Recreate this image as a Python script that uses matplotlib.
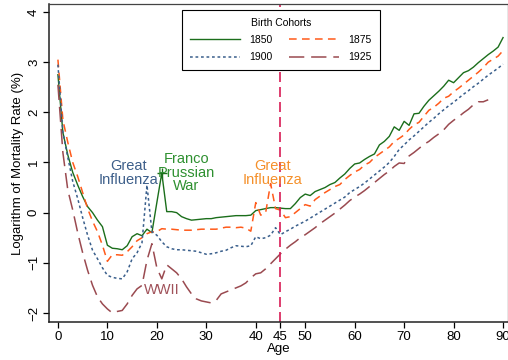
import matplotlib
matplotlib.use("Agg")
import matplotlib.pyplot as plt
import numpy as np

ages = list(range(0, 91))
ages_1925 = list(range(0, 88))

c1850 = [2.75, 1.6, 1.15, 0.8, 0.55, 0.32, 0.12, 0.0, -0.15, -0.28,
         -0.65, -0.71, -0.72, -0.74, -0.66, -0.48, -0.42, -0.46, -0.33, -0.4,
         0.2, 0.79, 0.02, 0.02, 0.0, -0.08, -0.12, -0.15, -0.14, -0.13,
         -0.12, -0.12, -0.1, -0.09, -0.08, -0.07, -0.06, -0.06, -0.06, -0.05,
         0.04, 0.06, 0.08, 0.1, 0.1, 0.09, 0.08, 0.08, 0.18, 0.3,
         0.37, 0.34, 0.42, 0.46, 0.5, 0.56, 0.6, 0.69, 0.77, 0.88,
         0.97, 0.99, 1.06, 1.12, 1.17, 1.35, 1.42, 1.52, 1.71, 1.64,
         1.82, 1.74, 1.97, 1.98, 2.12, 2.24, 2.33, 2.42, 2.52, 2.64,
         2.59, 2.69, 2.79, 2.83, 2.9, 2.99, 3.07, 3.15, 3.22, 3.3,
         3.49]

c1875 = [3.05, 1.85, 1.4, 1.0, 0.72, 0.4, 0.08, -0.17, -0.38, -0.65,
         -0.97, -0.84, -0.84, -0.85, -0.78, -0.68, -0.56, -0.5, -0.42, -0.38,
         -0.38, -0.32, -0.33, -0.33, -0.34, -0.35, -0.35, -0.35, -0.34, -0.33,
         -0.33, -0.33, -0.33, -0.31, -0.29, -0.29, -0.3, -0.29, -0.31, -0.37,
         0.2, -0.05, 0.0, 0.58, 0.08, 0.05, -0.1, -0.08, 0.0, 0.08,
         0.16, 0.13, 0.26, 0.33, 0.4, 0.46, 0.52, 0.56, 0.66, 0.74,
         0.81, 0.86, 0.95, 1.0, 1.1, 1.17, 1.24, 1.31, 1.42, 1.48,
         1.55, 1.66, 1.75, 1.8, 1.92, 2.04, 2.1, 2.18, 2.28, 2.32,
         2.41, 2.48, 2.56, 2.64, 2.72, 2.8, 2.89, 3.0, 3.06, 3.12,
         3.23]

c1900 = [2.95, 1.6, 1.1, 0.62, 0.28, -0.1, -0.45, -0.75, -0.92, -1.1,
         -1.25, -1.29, -1.31, -1.32, -1.18, -0.92, -0.8, -0.6, 0.55, -0.38,
         -0.45, -0.58, -0.68, -0.72, -0.74, -0.74, -0.75, -0.76, -0.77, -0.8,
         -0.83, -0.82, -0.8, -0.77, -0.75, -0.7, -0.66, -0.67, -0.68, -0.66,
         -0.48, -0.52, -0.5, -0.45, -0.3, -0.44, -0.38, -0.33, -0.27, -0.22,
         -0.17, -0.11, -0.05, 0.01, 0.07, 0.13, 0.19, 0.25, 0.31, 0.4,
         0.46, 0.52, 0.59, 0.67, 0.75, 0.83, 0.91, 1.0, 1.12, 1.26,
         1.35, 1.45, 1.53, 1.62, 1.71, 1.8, 1.88, 1.97, 2.05, 2.13,
         2.2, 2.28, 2.36, 2.43, 2.51, 2.58, 2.66, 2.74, 2.81, 2.88,
         2.96]

c1925 = [2.55, 1.2, 0.45, 0.05, -0.4, -0.8, -1.15, -1.45, -1.68, -1.82,
         -1.92, -2.0, -1.97, -1.95, -1.82, -1.65, -1.52, -1.45, -0.95, -0.62,
         -1.1, -1.32, -1.04, -1.12, -1.2, -1.32, -1.48, -1.62, -1.72, -1.76,
         -1.78, -1.8, -1.75, -1.62, -1.58, -1.54, -1.5, -1.46, -1.4, -1.3,
         -1.22, -1.2, -1.12, -1.02, -0.92, -0.82, -0.73, -0.65, -0.58, -0.5,
         -0.44, -0.37, -0.3, -0.22, -0.15, -0.08, -0.01, 0.07, 0.15, 0.24,
         0.31, 0.37, 0.44, 0.52, 0.6, 0.68, 0.76, 0.83, 0.92, 0.99,
         0.98, 1.13, 1.2, 1.28, 1.36, 1.42, 1.5, 1.57, 1.65, 1.76,
         1.84, 1.91, 1.99, 2.06, 2.15, 2.21, 2.21, 2.25]

xticks = [0, 10, 20, 30, 40, 45, 50, 60, 70, 80, 90]
yticks = [-2, -1, 0, 1, 2, 3, 4]
peak_age = 21

plt.rcParams['font.family'] = ['Liberation Sans', 'DejaVu Sans']

fig = plt.figure(figsize=(5.08, 3.6), dpi=100)
ax = fig.add_axes([0.0965, 0.1056, 0.9035, 0.8834])

green = '#1b6e1b'
l1, = ax.plot(ages, c1850, color=green, lw=1.0, linestyle='-')
ax.plot([ages[peak_age]], [c1850[peak_age]], linestyle='none', marker='+',
        markersize=7, markeredgewidth=1.0, color=green)
l2, = ax.plot(ages, c1875, color='#ff5a1a', lw=1.1, linestyle=(0, (5, 3.5)))
l3, = ax.plot(ages, c1900, color='#3a5f8c', lw=1.1, linestyle=(0, (1.8, 1.8)))
l4, = ax.plot(ages_1925, c1925, color='#9a4a50', lw=1.1, linestyle=(0, (10, 4.5)))

ax.axvline(45, color='#d81b55', lw=1.2, linestyle=(0, (6, 3)))

ax.text(14.2, 0.79, 'Great\nInfluenza', color='#3d5f8a', fontsize=10.5,
        ha='center', va='center', linespacing=0.95)
ax.text(26.0, 0.80, 'Franco\nPrussian\nWar', color='#2e9030', fontsize=10.5,
        ha='center', va='center', linespacing=0.95)
ax.text(43.3, 0.79, 'Great\nInfluenza', color='#f5902a', fontsize=10.5,
        ha='center', va='center', linespacing=0.95)
ax.text(21.0, -1.55, 'WWII', color='#a0525a', fontsize=10.5,
        ha='center', va='center')

ax.set_xlim(-1.8, 91.0)
ax.set_ylim(-2.18, 4.16)
ax.set_xticks(xticks)
ax.set_yticks(yticks)
ax.set_xticklabels([str(t) for t in xticks], fontsize=9.5)
ax.set_yticklabels([str(t).replace('-', '\u2212') for t in yticks], fontsize=9.5,
                   rotation=90, va='center')
ax.tick_params(direction='out', length=4.5, width=0.9, colors='black', pad=2)
ax.set_xlabel('Age', fontsize=9.5, labelpad=0)
ax.set_ylabel('Logarithm of Mortality Rate (%)', fontsize=9.5, labelpad=3)

for s in ['left', 'bottom']:
    ax.spines[s].set_linewidth(1.1)
    ax.spines[s].set_color('#222222')
for s in ['top', 'right']:
    ax.spines[s].set_linewidth(0.9)
    ax.spines[s].set_color('#444444')

leg = ax.legend([l1, l3, l2, l4], ['1850', '1900', '1875', '1925'],
                ncol=2, title='Birth Cohorts', fontsize=7.5, title_fontsize=7.5,
                loc='upper left', bbox_to_anchor=(0.29, 0.981), borderaxespad=0,
                frameon=True, fancybox=False, framealpha=1.0,
                edgecolor='black', handlelength=4.8, columnspacing=1.6,
                handletextpad=0.9, borderpad=0.75, labelspacing=0.7)
leg.get_frame().set_linewidth(0.8)

fig.savefig('out.png', dpi=100)
